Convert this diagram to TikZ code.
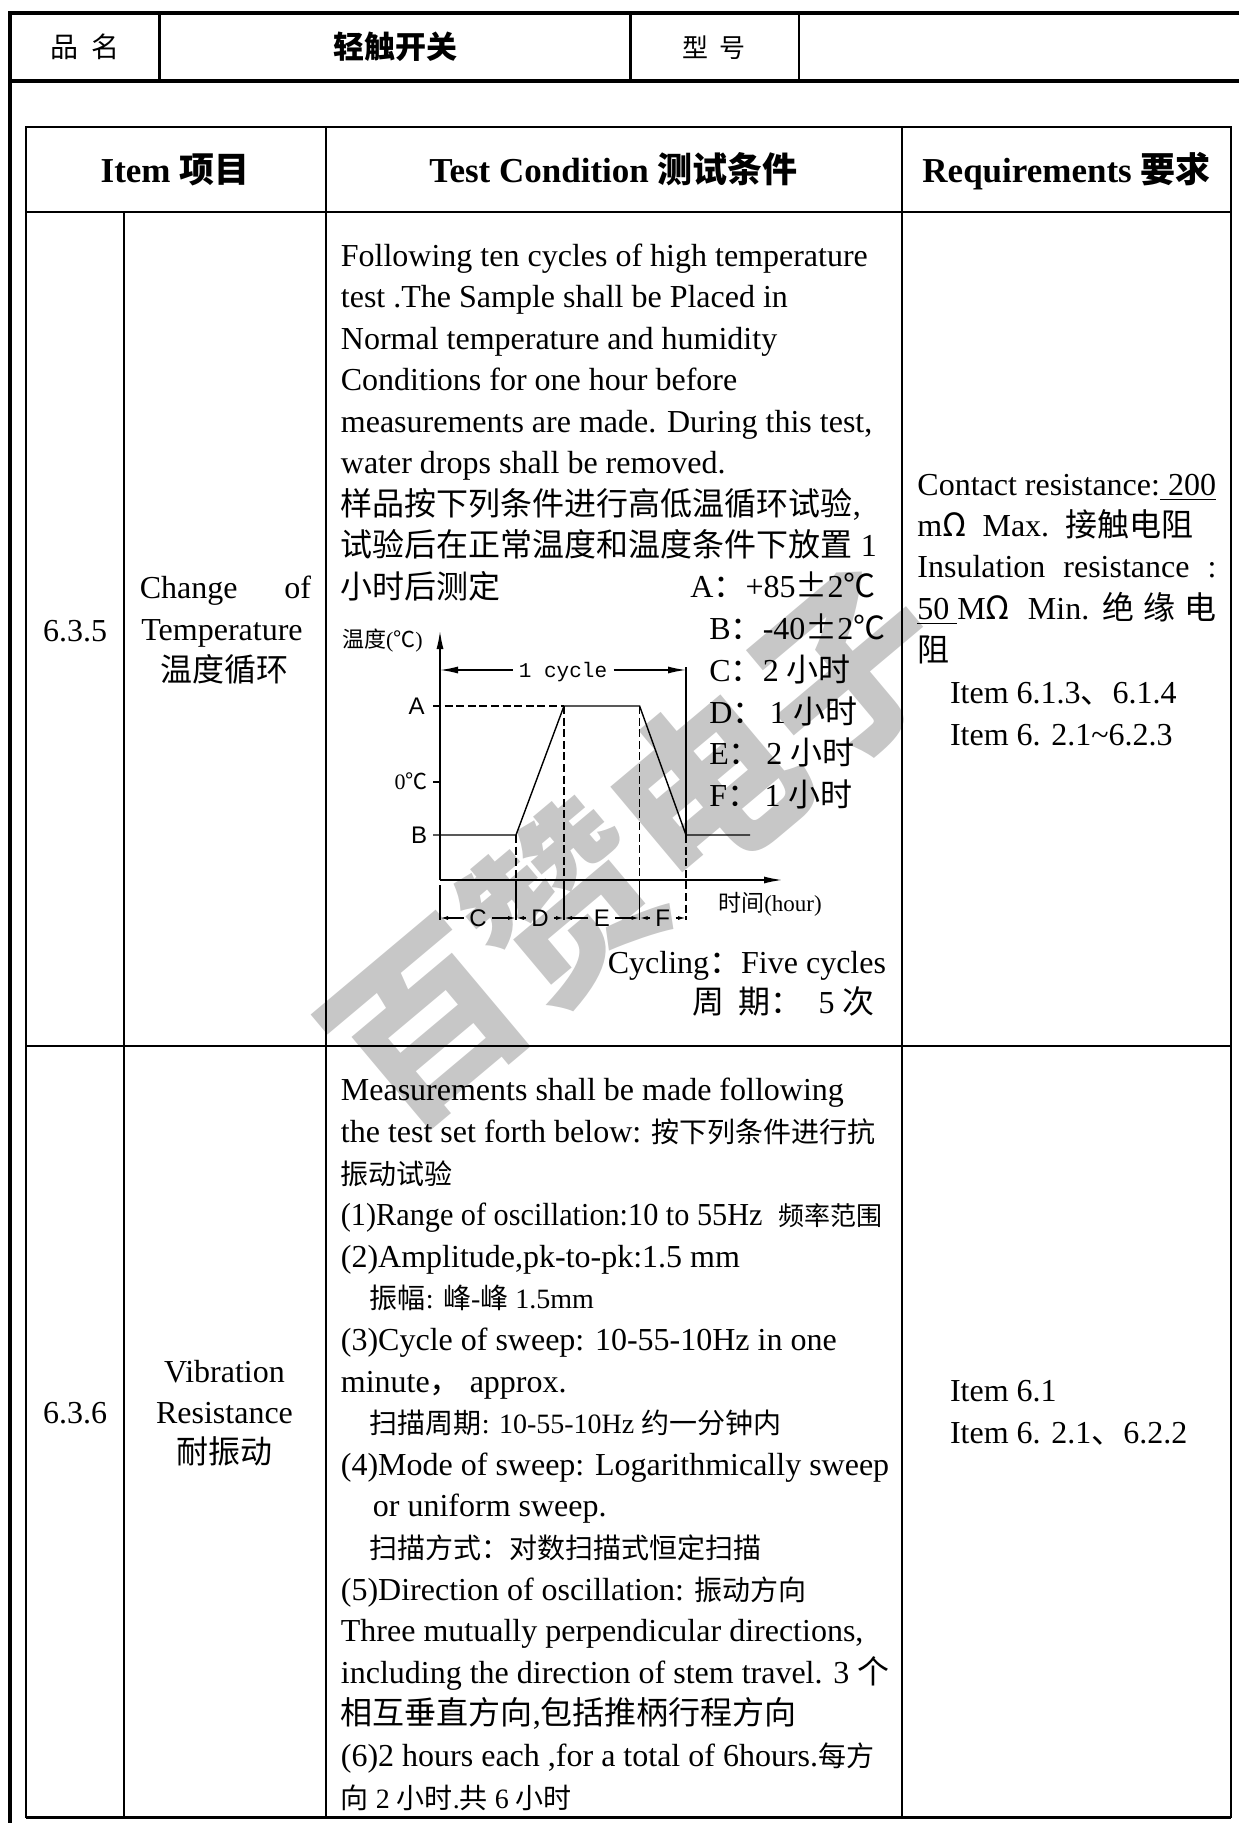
\documentclass[tikz,border=0pt]{standalone}
\usepackage{fontspec}
\usepackage{graphicx}
\setmainfont{Liberation Serif}
\newfontfamily\cjkfont{Noto Sans CJK SC}
\newfontfamily\cyclefont{Liberation Mono}
\newfontfamily\axisfont{Liberation Sans}
\usetikzlibrary{arrows.meta}

\newcommand{\zh}[1]{{\cjkfont #1}}
\newcommand{\smallzh}[1]{{\cjkfont\fontsize{14}{14}\selectfont #1}}
\newcommand{\smallsz}{\fontsize{14}{14}\selectfont}

\tikzset{
  txt/.style={inner sep=0pt, text height=10.8pt, text depth=0pt, font=\fontsize{16}{16}\selectfont},
  para/.style={txt, anchor=west},
  headtitle/.style={txt, text height=11.8pt, font=\bfseries\fontsize{17.5}{17.5}\selectfont},
  topcell/.style={txt, text height=9.5pt, font=\cjkfont\fontsize{14}{14}\selectfont},
  labelsans/.style={txt, text height=8.6pt, font=\axisfont\fontsize{12}{12}\selectfont},
  smalltxt/.style={txt, text height=7.5pt, font=\fontsize{11}{11}\selectfont},
  cellrule/.style={line width=1pt},
  heavyrule/.style={line width=2pt},
  plotline/.style={line width=0.7pt},
  guide/.style={line width=0.7pt, dash pattern=on 4pt off 1.8pt},
  axisarrow/.style={line width=0.7pt, -{Latex[length=9pt,width=3.5pt]}},
  dimarrow/.style={line width=0.7pt, -{Latex[length=4pt,width=2pt]}},
}

\begin{document}
\begin{tikzpicture}[x=0.5pt,y=-0.5pt]
\useasboundingbox (0,0) rectangle (1239,1823);

% watermark
\node[rotate=40, text=black!22, inner sep=0pt, font=\cjkfont\bfseries\fontsize{92}{92}\selectfont] (mark) at (636,846) {百赞电子};

% outer frame and header row
\draw[heavyrule] (1239,13) -- (10,13) -- (10,1823);
\draw[heavyrule] (10,81) -- (1239,81);
\foreach \x in {159.5,630.5,799} \draw[line width=1.2pt] (\x,13) -- (\x,81);

% inner table
\draw[cellrule] (25.6,127) rectangle (1231,1817);
\draw[cellrule] (25.6,211.7) -- (1231,211.7);
\draw[cellrule] (25.6,1046) -- (1231,1046);
\draw[cellrule] (124,211.7) -- (124,1817);
\foreach \x in {325.6,902} \draw[cellrule] (\x,127) -- (\x,1817);
\draw[line width=1.5pt] (25.6,1817) -- (1231,1817);

\node[topcell] (pinming) at (85,48) {品\ \ 名};
\node[topcell, text height=10.5pt, font=\cjkfont\bfseries\fontsize{15.5}{15.5}\selectfont] (pname) at (395,48) {轻触开关};
\node[topcell, font=\cjkfont\fontsize{13}{13}\selectfont] (xinghao) at (714,48) {型\ \ 号};

\node[headtitle] (tItem) at (175,171) {Item \zh{项目}};
\node[headtitle] (tCond) at (613.5,171) {Test Condition \zh{测试条件}};
\node[headtitle] (tReq) at (1066.5,171) {Requirements \zh{要求}};

% row 6.3.5
\node[txt] (no1) at (75,631) {6.3.5};
\node[para] (chg) at (139.5,588) {Change};
\node[txt, anchor=east] (chgof) at (311.5,588) {of};
\node[txt] (temp) at (222,630) {Temperature};
\node[txt] (tempzh) at (224.5,671) {\zh{温度循环}};

\foreach \t [count=\i] in {Following ten cycles of high temperature,
    test .The Sample shall be Placed in,
    Normal temperature and humidity,
    Conditions for one hour before,
    {measurements are made. During this test,},
    water drops shall be removed.,
    {\zh{样品按下列条件进行高低温循环试验},},
    \zh{试验后在正常温度和温度条件下放置} 1,
    \zh{小时后测定}}
  \node[para] (cyc-\i) at (340.5,{255.7+41.45*(\i-1)}) {\t};

\node[para] (valA) at (690,587) {A\zh{：}+85\zh{±}2\zh{℃}};
\node[para] (valB) at (709,629) {B\zh{：}-40\zh{±}2\zh{℃}};
\node[para] (valC) at (709,671) {C\zh{：}2 \zh{小时}};
\node[para] (valD) at (709,712.5) {D\zh{：}\,1 \zh{小时}};
\node[para] (valE) at (709,754) {E\zh{：}\,2 \zh{小时}};
\node[para] (valF) at (709,796) {F\zh{：}\,1 \zh{小时}};

% temperature cycle chart
\coordinate (o) at (440,880);
\coordinate (ytop) at (440,631);
\coordinate (xend) at (782,880);
\draw[axisarrow] (o) -- (ytop);
\draw[axisarrow] (o) -- (xend);
\node[smalltxt, anchor=west] (ylab) at (341.7,640) {\zh{温度}(\zh{℃})};
\node[labelsans] (lvA) at (416.7,706) {A};
\node[labelsans] (lvB) at (419,835) {B};
\node[smalltxt, anchor=east] (lv0) at (428,782) {0\zh{℃}};
\draw[plotline] (433,782) -- (440,782);

\coordinate (bstart) at (433,835);
\coordinate (astart) at (433,706);
\coordinate (r1) at (516,835);
\coordinate (p1) at (564,706);
\coordinate (p2) at (639.6,706);
\coordinate (r2) at (686,835);
\coordinate (bend) at (750,835);
\draw[plotline] (bstart) -- (r1) -- (p1) -- (p2) -- (r2) -- (bend);
\draw[guide] (astart) -- (p1);
\foreach \p/\x in {r1/516,p1/564,p2/639.6} {
  \draw[guide] (\p) -- (\x,880);
  \draw[plotline] (\x,880) -- (\x,920);
}
\draw[guide] (r2) -- (686,920);
\draw[plotline] (686,667) -- (r2);
\draw[plotline] (440,885) -- (440,920);

\node[txt, inner xsep=3pt, text height=7pt, font=\cyclefont\fontsize{10.5}{10.5}\selectfont] (cycle) at (563,670) {1 cycle};
\coordinate (cycL) at (440,670);
\coordinate (cycR) at (686,670);
\draw[axisarrow] (cycle.west) -- (cycL);
\draw[axisarrow] (cycle.east) -- (cycR);

\foreach \s/\x/\a/\b in {C/478/440/516, D/540/516/564, E/601.8/564/639.6, F/662.8/639.6/686} {
  \node[labelsans, inner xsep=2.5pt] (seg\s) at (\x,918) {\s};
  \draw[dimarrow] (seg\s.west) -- (\a,918);
  \draw[dimarrow] (seg\s.east) -- (\b,918);
}
\node[smalltxt, text height=8pt, font=\fontsize{11.5}{11.5}\selectfont] (xlab) at (770,903) {\zh{时间}(hour)};

\node[txt, anchor=east] (cycling) at (886.4,963) {Cycling\zh{：}Five cycles};
\node[txt, anchor=east] (period) at (875,1003) {\zh{周\ \ 期：}\ \ 5 \zh{次}};

\node[para] (req1a) at (917,485) {Contact resistance:\underline{\ 200}};
\node[para] (req1b) at (917,526) {m\zh{Ω}\ \ Max.\ \ \zh{接触电阻}};
\node[para] (req1c) at (917,567) {\makebox[149.5pt][s]{Insulation resistance :}};
\node[para] (req1d) at (917,609) {\makebox[149.5pt][s]{\underline{50\ }M\zh{Ω}\ \ Min. \zh{绝} \zh{缘} \zh{电}}};
\node[para] (req1e) at (917,651) {\zh{阻}};
\node[para] (req1f) at (949.6,693) {Item 6.1.3\zh{、}6.1.4};
\node[para] (req1g) at (949.6,735) {Item 6. 2.1\textasciitilde6.2.3};

% row 6.3.6
\node[txt] (no2) at (75,1413) {6.3.6};
\node[txt] (vib) at (224.5,1372) {Vibration};
\node[txt] (res) at (224.5,1413) {Resistance};
\node[txt] (vibzh) at (224.5,1453) {\zh{耐振动}};

\foreach \t [count=\i] in {Measurements shall be made following,
    the test set forth below: \smallzh{按下列条件进行抗},
    \smallzh{振动试验},
    \scalebox{0.945}[1]{(1)Range of oscillation:10 to 55Hz}\ \ {\cjkfont\fontsize{13}{13}\selectfont 频率范围},
    {(2)Amplitude,pk-to-pk:1.5 mm},
    {\smallsz\hspace*{14.5pt}\zh{振幅}: \zh{峰}-\zh{峰} 1.5mm},
    (3)Cycle of sweep: 10-55-10Hz in one,
    minute\zh{，} approx.,
    {\smallsz\hspace*{14.5pt}\zh{扫描周期}: 10-55-10Hz \zh{约一分钟内}},
    (4)Mode of sweep: Logarithmically sweep,
    \hspace*{16pt}or uniform sweep.,
    {\smallsz\hspace*{14.5pt}\zh{扫描方式：对数扫描式恒定扫描}},
    (5)Direction of oscillation: \smallzh{振动方向},
    {Three mutually perpendicular directions,},
    including the direction of stem travel. 3 \zh{个},
    {\zh{相互垂直方向},\zh{包括推柄行程方向}},
    {(6)2 hours each ,for a total of 6hours.\smallzh{每方}},
    {\smallsz\zh{向} 2 \zh{小时}.\zh{共} 6 \zh{小时}}}
  \node[para] (vib-\i) at (340.5,{1090+41.6*(\i-1)}) {\t};

\node[para] (req2a) at (949.6,1391) {Item 6.1};
\node[para] (req2b) at (949.6,1433) {Item 6. 2.1\zh{、}6.2.2};
\end{tikzpicture}
\end{document}
